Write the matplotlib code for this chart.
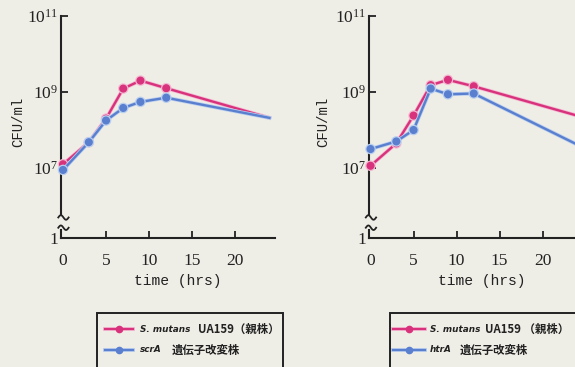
import numpy as np
import matplotlib.pyplot as plt
from matplotlib.lines import Line2D
from matplotlib.patches import Rectangle
import matplotlib.patheffects as pe

# sampling times (hrs)
hours = [0, 3, 5, 7, 9, 12, 24]

# log10(CFU/ml)
wt_left = [7.10, 7.68, 8.30, 9.09, 9.30, 9.10, 8.32]
scrA = [6.95, 7.68, 8.25, 8.58, 8.74, 8.85, 8.32]
wt_right = [7.06, 7.65, 8.38, 9.18, 9.32, 9.15, 8.38]
htrA = [7.50, 7.70, 8.00, 9.09, 8.94, 8.96, 7.62]

xticks = [0, 5, 10, 15, 20]
yticks = [5.16, 7, 9, 11]
ytick_labels = ['1', '$10^7$', '$10^9$', '$10^{11}$']

wt_name = 'S. mutans'
wt_suffix = ['UA159\uff08親株\uff09', 'UA159 \uff08親株\uff09']
mut_labels = ['scrA', 'htrA']
mut_suffix = '遺伝子改変株'

pink = '#d8327c'
pink_halo = '#f4b8d2'
blue = '#5a7fcf'
blue_halo = '#b9cff0'
bg = '#efeee6'
ink = '#222222'

plt.rcParams['font.family'] = ['Liberation Serif', 'DejaVu Serif']
plt.rcParams['mathtext.fontset'] = 'custom'
plt.rcParams['mathtext.rm'] = 'Liberation Serif'
plt.rcParams['mathtext.it'] = 'Liberation Serif'

W, H = 575, 367
fig = plt.figure(figsize=(W / 100, H / 100), dpi=100, facecolor=bg)


def fx(x):
    return x / W


def fy(y):
    return 1 - y / H


def draw_line(ax, y, color, halo):
    ax.plot(hours, y, color=color, lw=1.7, marker='o', ms=4.8, mfc=color,
            mec=color, markevery=slice(0, 6), clip_on=False, zorder=3,
            path_effects=[pe.Stroke(linewidth=2.8, foreground=halo), pe.Normal()])


def panel(left_px, wt, mut, xlabel_x):
    ax = fig.add_axes([fx(left_px), 0.3515, 0.371, 0.605])
    ax.set_facecolor('none')
    ax.set_xlim(-0.2, 24.6)
    ax.set_ylim(5.16, 11)
    for s in ['top', 'right', 'left']:
        ax.spines[s].set_visible(False)
    ax.spines['bottom'].set_linewidth(1.5)
    ax.spines['bottom'].set_color(ink)

    # broken y axis
    x0 = -0.2
    ax.plot([x0, x0], [5.80, 11], color=ink, lw=1.5, clip_on=False)
    t = np.linspace(-1, 1, 30)
    for yc in [5.70, 5.43]:
        ax.plot(x0 + 0.25 + 0.6 * t, yc - 0.06 * np.sin(np.pi * t), color=ink,
                lw=1.3, clip_on=False)
    ax.plot([x0, x0], [5.16, 5.36], color=ink, lw=1.5, clip_on=False)

    ax.set_xticks(xticks)
    ax.set_xticklabels([str(v) for v in xticks], fontsize=12.5)
    ax.set_yticks(yticks)
    ax.set_yticklabels(ytick_labels, fontsize=12.5)
    ax.tick_params(axis='x', direction='in', length=5, width=1.3, pad=11, colors=ink)
    ax.tick_params(axis='y', direction='in', length=5, width=1.3, pad=2, colors=ink)
    ax.xaxis.get_major_ticks()[0].tick1line.set_visible(False)
    ax.yaxis.get_major_ticks()[0].tick1line.set_visible(False)

    ax.text(xlabel_x, 4.04, 'time (hrs)', ha='center', va='center',
            family='Liberation Mono', fontsize=10.5, color=ink)

    draw_line(ax, wt, pink, pink_halo)
    draw_line(ax, mut, blue, blue_halo)
    return ax


panel(61.3, wt_left, scrA, 13.3)
panel(368.8, wt_right, htrA, 12.9)

for x in [18, 323]:
    fig.text(fx(x), fy(122), 'CFU/ml', rotation=90, ha='center', va='center',
             family='Liberation Mono', fontsize=10, color=ink)

# legends drawn by hand
legends = [
    dict(box=(97, 313, 283), line=(105, 133), text=140, wt_gap=198, mut=mut_labels[0], mut_gap=172),
    dict(box=(390, 313, 600), line=(393, 425), text=430, wt_gap=485, mut=mut_labels[1], mut_gap=460),
]
for i, lg in enumerate(legends):
    bx0, by0, bx1 = lg['box']
    fig.patches.append(Rectangle((fx(bx0), -0.05), fx(bx1 - bx0), fy(by0) + 0.05,
                                 transform=fig.transFigure, fill=False,
                                 ec=ink, lw=1.4))
    for row, (y, color, halo) in enumerate([(329, pink, pink_halo), (350, blue, blue_halo)]):
        l0, l1 = lg['line']
        fig.add_artist(Line2D([fx(l0), fx(l1)], [fy(y), fy(y)], color=color, lw=1.6,
                              transform=fig.transFigure,
                              path_effects=[pe.Stroke(linewidth=2.8, foreground=halo), pe.Normal()]))
        fig.add_artist(Line2D([fx((l0 + l1) / 2)], [fy(y)], color=color, marker='o', ms=4.5,
                              transform=fig.transFigure))
        if row == 0:
            first, second, gap = wt_name, wt_suffix[i], lg['wt_gap']
        else:
            first, second, gap = lg['mut'], mut_suffix, lg['mut_gap']
        fig.text(fx(lg['text']), fy(y), first, ha='left', va='center',
                 family='DejaVu Sans', style='italic', weight='bold', fontsize=6.4, color=ink)
        fig.text(fx(gap), fy(y), second, ha='left', va='center',
                 family=['Noto Sans CJK JP', 'DejaVu Sans'], weight='bold', fontsize=8.2, color=ink)

fig.savefig('out.png', dpi=100, facecolor=bg)
